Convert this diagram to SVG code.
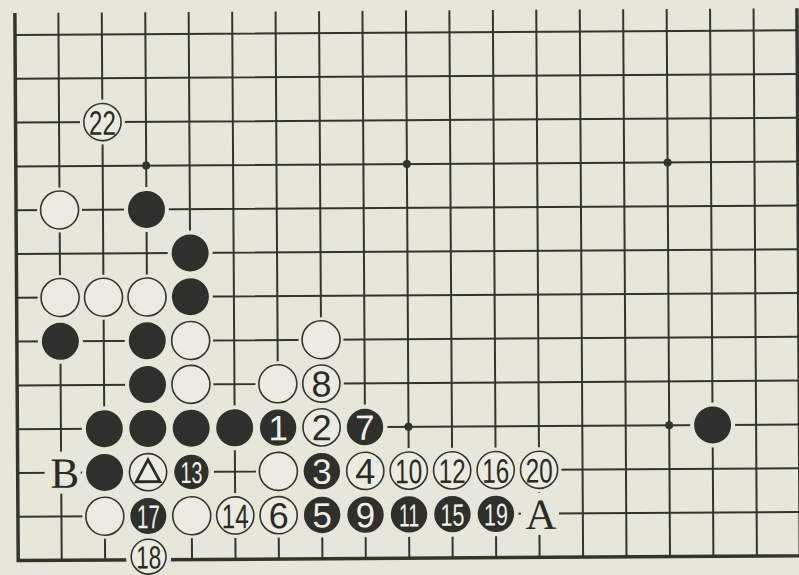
<svg xmlns="http://www.w3.org/2000/svg" width="799" height="575" viewBox="0 0 799 575">
<defs>
<style>
.ln{stroke:#34342f;stroke-width:2;fill:none}
.edge{stroke:#34342f;stroke-width:3.5;fill:none}
.halo{fill:#e6e6da}
.w{fill:#ebebe1;stroke:#34342f;stroke-width:1.6}
.b{fill:#2f2f2b}
.hoshi{fill:#34342f}
.tw{font-family:"Liberation Sans",Arial,sans-serif;font-size:36px;fill:#2a2a26;text-anchor:middle}
.tb{font-family:"Liberation Sans",Arial,sans-serif;font-size:35px;fill:#f0f0e8;text-anchor:middle}
.lab{font-family:"Liberation Serif","Times New Roman",serif;font-size:43px;fill:#2a2a26;text-anchor:middle}
</style>
</defs>
<rect x="0" y="0" width="799" height="575" fill="#e6e6da"/>
<g transform="rotate(-0.35 15 35)">
<g id="grid">
<path class="ln" d="M58.5 13V560.6M101.9 13V560.6M145.4 13V560.6M188.8 13V560.6M232.3 13V560.6M275.7 13V560.6M319.2 13V560.6M362.6 13V560.6M406.1 13V560.6M449.5 13V560.6M493 13V560.6M536.4 13V560.6M579.9 13V560.6M623.3 13V560.6M666.8 13V560.6M710.2 13V560.6M753.7 13V560.6"/>
<path class="ln" d="M15 35H797.1M15 78.8H797.1M15 122.6H797.1M15 166.4H797.1M15 210.2H797.1M15 254H797.1M15 297.8H797.1M15 341.6H797.1M15 385.4H797.1M15 429.2H797.1M15 473H797.1M15 516.8H797.1"/>
<path class="edge" d="M15 13V562.3M13.3 560.6H798.8M797.1 13V562.3"/>
<circle class="hoshi" cx="145.4" cy="166.4" r="4"/>
<circle class="hoshi" cx="406.1" cy="166.4" r="4"/>
<circle class="hoshi" cx="666.8" cy="166.4" r="4"/>
<circle class="hoshi" cx="406.1" cy="429.2" r="4"/>
<circle class="hoshi" cx="666.8" cy="429.2" r="4"/>
</g>
<g id="stones">
<g id="w22"><circle class="halo" cx="101.9" cy="122.6" r="22.5"/><circle class="w" cx="101.9" cy="122.6" r="18.6"/><text class="tw" x="101.9" y="135.3" style="font-size:34px" textLength="27" lengthAdjust="spacingAndGlyphs">22</text></g>
<g id="w-1-4"><circle class="halo" cx="58.5" cy="210.2" r="22.5"/><circle class="w" cx="58.5" cy="210.2" r="19"/></g>
<g id="b-3-4"><circle class="halo" cx="145.4" cy="210.2" r="22.5"/><circle class="b" cx="145.4" cy="210.2" r="18.5"/></g>
<g id="b-4-5"><circle class="halo" cx="188.8" cy="254" r="22.5"/><circle class="b" cx="188.8" cy="254" r="18.5"/></g>
<g id="w-1-6"><circle class="halo" cx="58.5" cy="297.8" r="22.5"/><circle class="w" cx="58.5" cy="297.8" r="19"/></g>
<g id="w-2-6"><circle class="halo" cx="101.9" cy="297.8" r="22.5"/><circle class="w" cx="101.9" cy="297.8" r="19"/></g>
<g id="w-3-6"><circle class="halo" cx="145.4" cy="297.8" r="22.5"/><circle class="w" cx="145.4" cy="297.8" r="19"/></g>
<g id="b-4-6"><circle class="halo" cx="188.8" cy="297.8" r="22.5"/><circle class="b" cx="188.8" cy="297.8" r="18.5"/></g>
<g id="b-1-7"><circle class="halo" cx="58.5" cy="341.6" r="22.5"/><circle class="b" cx="58.5" cy="341.6" r="18.5"/></g>
<g id="b-3-7"><circle class="halo" cx="145.4" cy="341.6" r="22.5"/><circle class="b" cx="145.4" cy="341.6" r="18.5"/></g>
<g id="w-4-7"><circle class="halo" cx="188.8" cy="341.6" r="22.5"/><circle class="w" cx="188.8" cy="341.6" r="19"/></g>
<g id="w-7-7"><circle class="halo" cx="319.2" cy="341.6" r="22.5"/><circle class="w" cx="319.2" cy="341.6" r="19"/></g>
<g id="b-3-8"><circle class="halo" cx="145.4" cy="385.4" r="22.5"/><circle class="b" cx="145.4" cy="385.4" r="18.5"/></g>
<g id="w-4-8"><circle class="halo" cx="188.8" cy="385.4" r="22.5"/><circle class="w" cx="188.8" cy="385.4" r="19"/></g>
<g id="w-6-8"><circle class="halo" cx="275.7" cy="385.4" r="22.5"/><circle class="w" cx="275.7" cy="385.4" r="19"/></g>
<g id="w8"><circle class="halo" cx="319.2" cy="385.4" r="22.5"/><circle class="w" cx="319.2" cy="385.4" r="18.6"/><text class="tw" x="319.2" y="398.3">8</text></g>
<g id="b-2-9"><circle class="halo" cx="101.9" cy="429.2" r="22.5"/><circle class="b" cx="101.9" cy="429.2" r="18.5"/></g>
<g id="b-3-9"><circle class="halo" cx="145.4" cy="429.2" r="22.5"/><circle class="b" cx="145.4" cy="429.2" r="18.5"/></g>
<g id="b-4-9"><circle class="halo" cx="188.8" cy="429.2" r="22.5"/><circle class="b" cx="188.8" cy="429.2" r="18.5"/></g>
<g id="b-5-9"><circle class="halo" cx="232.3" cy="429.2" r="22.5"/><circle class="b" cx="232.3" cy="429.2" r="18.5"/></g>
<g id="b1"><circle class="halo" cx="275.7" cy="429.2" r="22.5"/><circle class="b" cx="275.7" cy="429.2" r="18.2"/><text class="tb" x="275.7" y="441.8">1</text></g>
<g id="w2"><circle class="halo" cx="319.2" cy="429.2" r="22.5"/><circle class="w" cx="319.2" cy="429.2" r="18.6"/><text class="tw" x="319.2" y="442.1">2</text></g>
<g id="b7"><circle class="halo" cx="362.6" cy="429.2" r="22.5"/><circle class="b" cx="362.6" cy="429.2" r="18.2"/><text class="tb" x="362.6" y="441.8">7</text></g>
<g id="b-2-10"><circle class="halo" cx="101.9" cy="473" r="22.5"/><circle class="b" cx="101.9" cy="473" r="18.5"/></g>
<g id="w-tri"><circle class="halo" cx="145.4" cy="473" r="22.5"/><circle class="w" cx="145.4" cy="473" r="18.6"/><path d="M145.4 460.5L157.3 482.5H133.5Z" fill="none" stroke="#2a2a26" stroke-width="2.8" stroke-linejoin="miter"/></g>
<g id="b13"><circle class="halo" cx="188.8" cy="473" r="22.5"/><circle class="b" cx="188.8" cy="473" r="17.2"/><text class="tb" x="188.8" y="484" style="font-size:30px" textLength="22" lengthAdjust="spacingAndGlyphs">13</text></g>
<g id="w-6-10"><circle class="halo" cx="275.7" cy="473" r="22.5"/><circle class="w" cx="275.7" cy="473" r="19"/></g>
<g id="b3"><circle class="halo" cx="319.2" cy="473" r="22.5"/><circle class="b" cx="319.2" cy="473" r="18.2"/><text class="tb" x="319.2" y="485.6">3</text></g>
<g id="w4"><circle class="halo" cx="362.6" cy="473" r="22.5"/><circle class="w" cx="362.6" cy="473" r="18.6"/><text class="tw" x="362.6" y="485.9">4</text></g>
<g id="w10"><circle class="halo" cx="406.1" cy="473" r="22.5"/><circle class="w" cx="406.1" cy="473" r="18.6"/><text class="tw" x="406.1" y="485.7" style="font-size:34px" textLength="27" lengthAdjust="spacingAndGlyphs">10</text></g>
<g id="w12"><circle class="halo" cx="449.5" cy="473" r="22.5"/><circle class="w" cx="449.5" cy="473" r="18.6"/><text class="tw" x="449.5" y="485.7" style="font-size:34px" textLength="27" lengthAdjust="spacingAndGlyphs">12</text></g>
<g id="w16"><circle class="halo" cx="493" cy="473" r="22.5"/><circle class="w" cx="493" cy="473" r="18.6"/><text class="tw" x="493" y="485.7" style="font-size:34px" textLength="27" lengthAdjust="spacingAndGlyphs">16</text></g>
<g id="w20"><circle class="halo" cx="536.4" cy="473" r="22.5"/><circle class="w" cx="536.4" cy="473" r="18.6"/><text class="tw" x="536.4" y="485.7" style="font-size:34px" textLength="27" lengthAdjust="spacingAndGlyphs">20</text></g>
<g id="w-2-11"><circle class="halo" cx="101.9" cy="516.8" r="22.5"/><circle class="w" cx="101.9" cy="516.8" r="19"/></g>
<g id="b17"><circle class="halo" cx="145.4" cy="516.8" r="22.5"/><circle class="b" cx="145.4" cy="516.8" r="18"/><text class="tb" x="145.4" y="529" style="font-size:33px" textLength="23" lengthAdjust="spacingAndGlyphs">17</text></g>
<g id="w-4-11"><circle class="halo" cx="188.8" cy="516.8" r="22.5"/><circle class="w" cx="188.8" cy="516.8" r="19"/></g>
<g id="w14"><circle class="halo" cx="232.3" cy="516.8" r="22.5"/><circle class="w" cx="232.3" cy="516.8" r="18.6"/><text class="tw" x="232.3" y="529.5" style="font-size:34px" textLength="27" lengthAdjust="spacingAndGlyphs">14</text></g>
<g id="w6"><circle class="halo" cx="275.7" cy="516.8" r="22.5"/><circle class="w" cx="275.7" cy="516.8" r="18.6"/><text class="tw" x="275.7" y="529.7">6</text></g>
<g id="b5"><circle class="halo" cx="319.2" cy="516.8" r="22.5"/><circle class="b" cx="319.2" cy="516.8" r="18.2"/><text class="tb" x="319.2" y="529.4">5</text></g>
<g id="b9"><circle class="halo" cx="362.6" cy="516.8" r="22.5"/><circle class="b" cx="362.6" cy="516.8" r="18.2"/><text class="tb" x="362.6" y="529.4">9</text></g>
<g id="b11"><circle class="halo" cx="406.1" cy="516.8" r="22.5"/><circle class="b" cx="406.1" cy="516.8" r="18.2"/><text class="tb" x="406.1" y="528.8" style="font-size:32px" textLength="20" lengthAdjust="spacingAndGlyphs">11</text></g>
<g id="b15"><circle class="halo" cx="449.5" cy="516.8" r="22.5"/><circle class="b" cx="449.5" cy="516.8" r="18.2"/><text class="tb" x="449.5" y="528.3" style="font-size:31px" textLength="24" lengthAdjust="spacingAndGlyphs">15</text></g>
<g id="b19"><circle class="halo" cx="493" cy="516.8" r="22.5"/><circle class="b" cx="493" cy="516.8" r="18.2"/><text class="tb" x="493" y="528.3" style="font-size:31px" textLength="24" lengthAdjust="spacingAndGlyphs">19</text></g>
<g id="w18"><circle class="halo" cx="145.4" cy="559" r="22.5"/><circle class="w" cx="145.4" cy="557.5" r="17.4"/><text class="tw" x="145.4" y="569.3" style="font-size:32px" textLength="25" lengthAdjust="spacingAndGlyphs">18</text></g>
<g id="b-16-9"><circle class="halo" cx="710.2" cy="429.2" r="22.5"/><circle class="b" cx="710.2" cy="429.2" r="18.5"/></g>
</g>
<g id="labels">
<g id="labB"><rect class="halo" x="42" y="452" width="36" height="42"/><text class="lab" x="62" y="488">B</text></g>
<g id="labA"><rect class="halo" x="518" y="496" width="38" height="42"/><text class="lab" x="538" y="532">A</text></g>
</g>
</g>
</svg>
